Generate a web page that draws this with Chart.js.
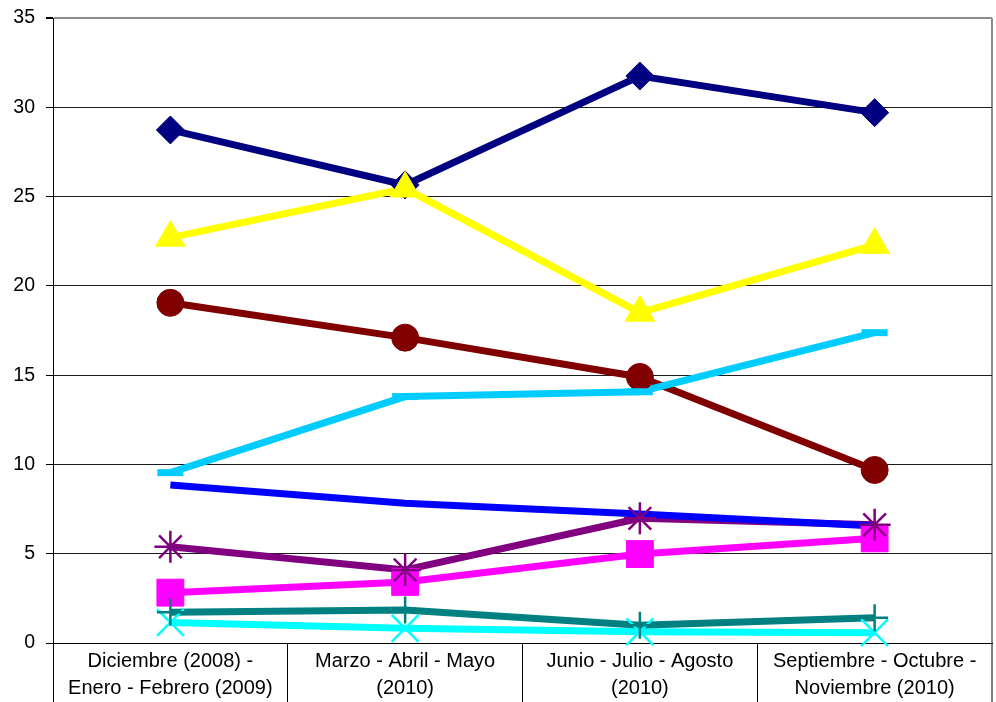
<!DOCTYPE html>
<html>
<head>
<meta charset="utf-8">
<script src="https://cdn.jsdelivr.net/npm/chart.js@4.4.1/dist/chart.umd.min.js"></script>
<style>
html,body{margin:0;padding:0;background:#fff;}
#wrap{width:996px;height:702px;position:relative;}
</style>
</head>
<body>
<div id="wrap"><canvas id="c" width="996" height="702"></canvas></div>
<script>
const categories = [
  ['Diciembre (2008) -', 'Enero - Febrero (2009)'],
  ['Marzo - Abril - Mayo', '(2010)'],
  ['Junio - Julio - Agosto', '(2010)'],
  ['Septiembre - Octubre -', 'Noviembre (2010)']
];
const yTicks = [0, 5, 10, 15, 20, 25, 30, 35];

const s1 = [28.73, 25.65, 31.75, 29.7];   // navy diamond
const s2 = [2.82, 3.42, 4.98, 5.86];      // magenta square
const s3 = [22.7, 25.45, 18.5, 22.3];     // yellow triangle
const s4 = [1.15, 0.82, 0.63, 0.58];      // cyan x
const s5 = [5.39, 4.09, 6.98, 6.62];      // purple asterisk
const s6 = [19.05, 17.1, 14.9, 9.69];     // maroon circle
const s7 = [1.72, 1.85, 1.0, 1.42];       // teal plus
const s8 = [8.85, 7.82, 7.22, 6.55];      // blue
const s9 = [9.54, 13.8, 14.07, 17.38];    // sky blue

const series = [
  {data: s1, color: '#000080', style: 'rectRot', r: 14, bw: 1},
  {data: s2, color: '#FF00FF', style: 'rect', r: 19, bw: 1},
  {data: s3, color: '#FFFF00', style: 'triangle', r: 17, bw: 1},
  {data: s4, color: '#00FFFF', style: 'crossRot', r: 19, bw: 2.5},
  {data: s5, color: '#800080', style: 'star', r: 16, bw: 2.5},
  {data: s6, color: '#800000', style: 'circle', r: 13.5, bw: 1},
  {data: s7, color: '#008080', style: 'cross', r: 13.5, bw: 2.5},
  {data: s8, color: '#0000FF', style: 'line', r: 0, bw: 7},
  {data: s9, color: '#00CCFF', style: 'line', r: 13, bw: 7}
];

const datasets = [];
series.forEach((s, i) => {
  datasets.push({
    data: s.data,
    borderColor: s.color,
    backgroundColor: s.color,
    borderWidth: 7,
    pointRadius: 0,
    pointHoverRadius: 0,
    tension: 0,
    fill: false,
    clip: false,
    order: 100 - i
  });
  datasets.push({
    data: s.data,
    showLine: false,
    pointStyle: s.style,
    pointRadius: s.r,
    pointHoverRadius: s.r,
    pointBackgroundColor: s.color,
    pointBorderColor: s.color,
    pointBorderWidth: s.bw,
    clip: false,
    order: 10 - i
  });
});

const FONT = {family: "'Liberation Sans', Arial, sans-serif", size: 20, lineHeight: 1.35};

new Chart(document.getElementById('c'), {
  type: 'line',
  data: {labels: categories, datasets: datasets},
  options: {
    responsive: false,
    devicePixelRatio: 1,
    animation: false,
    events: [],
    layout: {autoPadding: false, padding: {top: 18, right: 4, left: 0, bottom: 0}},
    plugins: {legend: {display: false}, title: {display: false}, tooltip: {enabled: false}},
    scales: {
      x: {
        type: 'category',
        offset: true,
        grid: {
          offset: true,
          drawOnChartArea: true,
          drawTicks: true,
          tickLength: 59,
          color: (ctx) => (ctx.index === undefined) ? '#8c8c8c' : 'rgba(0,0,0,0)',
          lineWidth: (ctx) => (ctx.index === undefined) ? 2 : 1,
          tickColor: '#000',
          tickWidth: 1
        },
        border: {display: true, color: '#000', width: 1},
        ticks: {
          color: '#000',
          font: FONT,
          padding: -54.5,
          autoSkip: false,
          maxRotation: 0,
          minRotation: 0
        },
        afterFit: (scale) => {
          scale.height = 59;
          scale.paddingLeft = 0; scale.paddingRight = 0;
          scale.paddingTop = 0; scale.paddingBottom = 0;
        }
      },
      y: {
        type: 'linear',
        min: 0,
        max: 35,
        afterBuildTicks: (scale) => { scale.ticks = yTicks.map(v => ({value: v})); },
        grid: {
          color: (ctx) => (ctx.tick && ctx.tick.value === 35) ? '#8c8c8c' : '#1a1a1a',
          lineWidth: (ctx) => (ctx.tick && ctx.tick.value === 35) ? 2 : 1,
          tickColor: '#000',
          tickLength: 7,
          drawTicks: true
        },
        border: {display: true, color: '#000', width: 1},
        ticks: {
          color: '#000',
          font: {family: "'Liberation Sans', Arial, sans-serif", size: 19.5},
          padding: 11
        },
        afterFit: (scale) => {
          scale.width = 53;
          scale.paddingTop = 0; scale.paddingBottom = 0;
          scale.paddingLeft = 0; scale.paddingRight = 0;
        }
      }
    }
  }
});
</script>
</body>
</html>
